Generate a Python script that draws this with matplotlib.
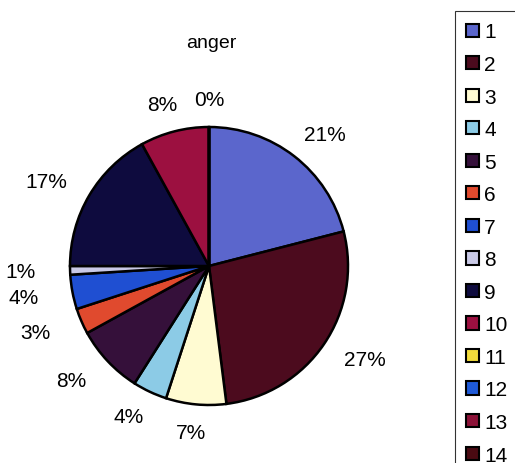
import numpy as np
import matplotlib
matplotlib.use("Agg")
import matplotlib.pyplot as plt

# slice values (percent) for the "anger" chart, clockwise from 12 o'clock
categories = [str(i) for i in range(1, 15)]
shares = [21, 27, 7, 4, 8, 3, 4, 1, 17, 8, 0, 0, 0, 0]
colors = ['#5b66cc', '#4c0b1e', '#fffbd2', '#8ccbe6', '#35103a', '#e04a2e', '#1f4fd2',
          '#c9c9e6', '#0e0b3e', '#9c1040', '#f2dc3c', '#1f5ad8', '#8c1238', '#4a0a12']

plt.rcParams['font.family'] = ['Liberation Sans', 'DejaVu Sans']

fig = plt.figure(figsize=(5.15, 4.64), dpi=100)
ax = fig.add_axes([70/515, 58/464, 278/515, 278/464])

wedges, texts, autotexts = ax.pie(shares, colors=colors, startangle=90, counterclock=False,
                                  autopct='%1.0f%%', pctdistance=1.3,
                                  wedgeprops=dict(edgecolor='black', linewidth=1.8),
                                  textprops=dict(fontsize=15, color='black'))
ax.set_xlim(-1.0, 1.0)
ax.set_ylim(-1.0, 1.0)
ax.set_aspect('equal')

# spreadsheet-style label ring: wider at the sides than at top/bottom
seen_zero = False
for val, w, t in zip(shares, wedges, autotexts):
    mid = np.deg2rad((w.theta1 + w.theta2) / 2)
    t.set_position((1.36 * np.cos(mid), 1.2 * np.sin(mid)))
    if val == 0:
        # zero slices all sit at the top; show one label
        t.set_visible(not seen_zero)
        seen_zero = True

fig.text(211/515, 1 - 43/464, 'anger', ha='center', va='center', fontsize=14)

leg = fig.legend(wedges, categories, loc='upper left', bbox_to_anchor=(455/515, 1 - 12/464),
                 fontsize=15, frameon=True, fancybox=False, edgecolor='black',
                 handlelength=0.6, handleheight=0.6, handletextpad=0.25,
                 labelspacing=0.65, borderpad=0.55, borderaxespad=0)
leg.get_frame().set_linewidth(0.8)
for h in leg.legend_handles:
    h.set_linewidth(1.5)

fig.savefig('out.png', dpi=100)
